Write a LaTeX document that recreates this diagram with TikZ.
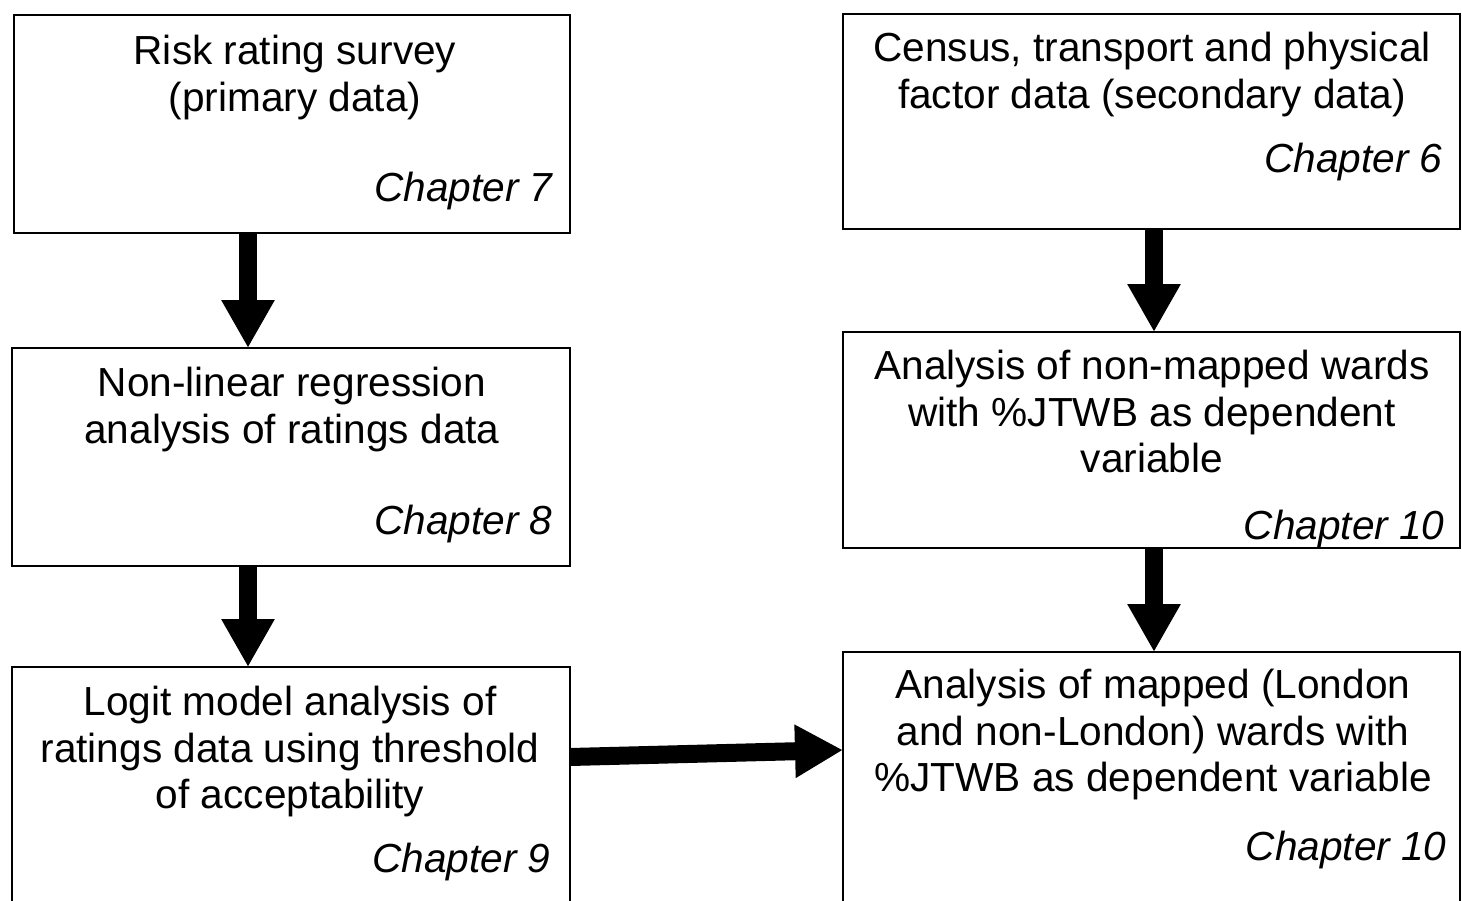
\documentclass[tikz,border=0pt]{standalone}
\usepackage{fontspec}
\setmainfont{Liberation Sans}
\usetikzlibrary{arrows.meta}
\begin{document}
\begin{tikzpicture}[x=0.5pt,y=-0.5pt,
    box/.style={draw,line width=1pt,inner sep=0pt,outer sep=0pt},
    title/.style={anchor=north,align=center,inner sep=0pt,
      font=\fontsize{20.3pt}{23.2pt}\selectfont},
    chap/.style={anchor=base east,inner sep=0pt,
      font=\fontsize{20.3pt}{23.2pt}\selectfont\itshape},
    bigarrow/.style={line width=9pt,-{Triangle[length=24pt,width=25pt]}}]
  \useasboundingbox (0,0) rectangle (1462,900);
  \node[box,minimum width=278pt,minimum height=109pt] (survey) at (292,124) {};
  \node[box,minimum width=279pt,minimum height=109pt] (regr) at (291,457) {};
  \node[box,minimum width=279pt,minimum height=136.5pt] (logit) at (291,803.5) {};
  \node[box,minimum width=308.5pt,minimum height=107.5pt] (census) at (1151.5,121.5) {};
  \node[box,minimum width=308.5pt,minimum height=108pt] (nonmap) at (1151.5,440) {};
  \node[box,minimum width=308.5pt,minimum height=144pt] (mapped) at (1151.5,796) {};

  \node[title] (t1) at (295,35) {Risk rating survey\\(primary data)};
  \node[title] (t2) at (292,367) {Non-linear regression\\analysis of ratings data};
  \node[title] (t3) at (290,686) {Logit model analysis of\\ratings data using threshold\\of acceptability};
  \node[title] (t4) at (1152,32) {Census, transport and physical\\factor data (secondary data)};
  \node[title] (t5) at (1152,350) {Analysis of non-mapped wards\\with \%JTWB as dependent\\variable};
  \node[title] (t6) at (1153,669) {Analysis of mapped (London\\and non-London) wards with\\\%JTWB as dependent variable};

  \node[chap] (c7) at (553,201) {Chapter 7};
  \node[chap] (c8) at (553,534) {Chapter 8};
  \node[chap] (c9) at (551,872) {Chapter 9};
  \node[chap] (c6) at (1443,172) {Chapter 6};
  \node[chap] (c10a) at (1445,539) {Chapter 10};
  \node[chap] (c10b) at (1447,860) {Chapter 10};

  \begin{scope}[bigarrow]
    \draw (248,0 |- survey.south) to (248,0 |- regr.north);
    \draw (248,0 |- regr.south) to (248,0 |- logit.north);
    \draw (1154,0 |- census.south) to (1154,0 |- nonmap.north);
    \draw (1154,0 |- nonmap.south) to (1154,0 |- mapped.north);
    \draw (logit.east |- 0,757) to (mapped.west |- 0,750);
  \end{scope}
\end{tikzpicture}
\end{document}
